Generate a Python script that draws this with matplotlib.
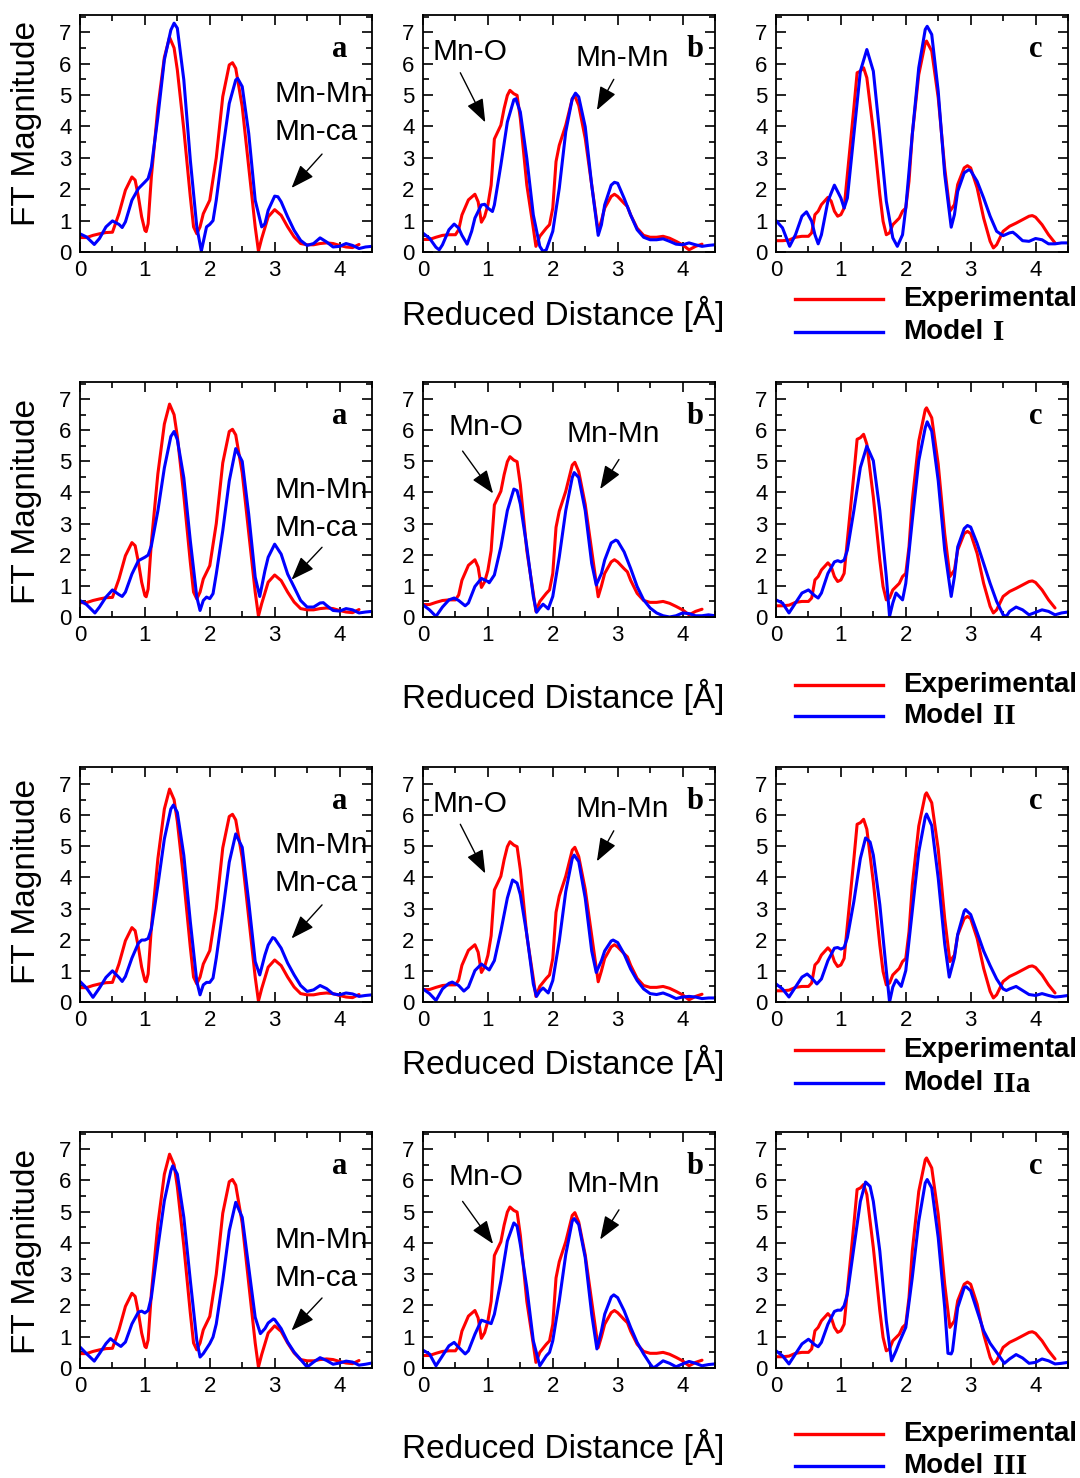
import matplotlib.pyplot as plt
from matplotlib.ticker import MultipleLocator

plt.rcParams['font.family'] = ['Liberation Sans', 'DejaVu Sans']

# experimental FT magnitudes (same curve in every row), (R, |FT|) pairs
exp_a = [(0.0, 0.46), (0.1, 0.46), (0.2, 0.53), (0.3, 0.58), (0.4, 0.62), (0.5, 0.63), (0.6, 1.22),
         (0.7, 1.97), (0.8, 2.39), (0.85, 2.29), (0.9, 1.76), (0.95, 1.12), (1.0, 0.69), (1.02, 0.65),
         (1.05, 0.9), (1.1, 2.4), (1.2, 4.6), (1.3, 6.2), (1.38, 6.84), (1.45, 6.5), (1.5, 5.8),
         (1.6, 3.9), (1.7, 1.76), (1.75, 0.8), (1.8, 0.58), (1.85, 0.8), (1.9, 1.22), (2.0, 1.65),
         (2.1, 3.0), (2.2, 4.95), (2.3, 5.96), (2.35, 6.03), (2.4, 5.85), (2.5, 4.63), (2.6, 2.71),
         (2.7, 0.8), (2.75, 0.03), (2.8, 0.43), (2.9, 1.12), (3.0, 1.35), (3.1, 1.17), (3.2, 0.8),
         (3.3, 0.48), (3.4, 0.27), (3.5, 0.23), (3.6, 0.23), (3.7, 0.27), (3.8, 0.29), (3.9, 0.27),
         (4.0, 0.21), (4.1, 0.16), (4.2, 0.14), (4.3, 0.24)]
exp_b = [(0.0, 0.4), (0.1, 0.4), (0.2, 0.47), (0.3, 0.53), (0.4, 0.55), (0.5, 0.55), (0.55, 0.71),
         (0.6, 1.18), (0.7, 1.66), (0.8, 1.84), (0.85, 1.6), (0.9, 0.95), (0.95, 1.13), (1.0, 1.5),
         (1.05, 2.13), (1.1, 3.6), (1.2, 4.04), (1.25, 4.57), (1.3, 4.99), (1.34, 5.15), (1.4, 5.04),
         (1.45, 4.99), (1.5, 4.25), (1.6, 2.13), (1.7, 0.76), (1.74, 0.18), (1.8, 0.5), (1.9, 0.76),
         (1.95, 0.87), (2.0, 1.4), (2.05, 2.88), (2.1, 3.4), (2.2, 4.04), (2.3, 4.88), (2.34, 4.97),
         (2.4, 4.67), (2.5, 3.62), (2.6, 2.13), (2.7, 0.65), (2.75, 1.0), (2.8, 1.4), (2.9, 1.77),
         (2.95, 1.84), (3.0, 1.77), (3.1, 1.55), (3.15, 1.45), (3.2, 1.18), (3.3, 0.76), (3.4, 0.53),
         (3.5, 0.47), (3.6, 0.47), (3.7, 0.5), (3.8, 0.44), (3.9, 0.34), (4.0, 0.23), (4.1, 0.07),
         (4.2, 0.18), (4.3, 0.25)]
exp_c = [(0.0, 0.36), (0.1, 0.36), (0.2, 0.38), (0.3, 0.47), (0.4, 0.5), (0.5, 0.5), (0.55, 0.61),
         (0.6, 1.19), (0.65, 1.3), (0.7, 1.51), (0.8, 1.74), (0.85, 1.62), (0.9, 1.3), (0.95, 1.14),
         (1.0, 1.19), (1.05, 1.4), (1.1, 2.47), (1.2, 4.59), (1.25, 5.71), (1.3, 5.76), (1.35, 5.87),
         (1.4, 5.55), (1.5, 3.85), (1.6, 1.83), (1.65, 0.98), (1.7, 0.55), (1.75, 0.61), (1.8, 0.87),
         (1.9, 1.08), (1.95, 1.3), (2.0, 1.4), (2.05, 2.26), (2.1, 3.74), (2.2, 5.65), (2.3, 6.66),
         (2.32, 6.72), (2.4, 6.4), (2.5, 4.91), (2.6, 2.68), (2.68, 1.3), (2.75, 1.51), (2.8, 2.15),
         (2.9, 2.68), (2.95, 2.75), (3.0, 2.68), (3.1, 2.04), (3.2, 1.08), (3.3, 0.34), (3.35, 0.13),
         (3.4, 0.23), (3.5, 0.66), (3.6, 0.82), (3.7, 0.92), (3.8, 1.03), (3.9, 1.14), (3.95, 1.16),
         (4.0, 1.11), (4.1, 0.87), (4.2, 0.55), (4.3, 0.29)]

# Model I
m1_a = [(0.0, 0.58), (0.1, 0.48), (0.22, 0.24), (0.3, 0.43), (0.4, 0.8), (0.5, 0.99), (0.6, 0.88),
        (0.65, 0.78), (0.7, 0.96), (0.8, 1.65), (0.9, 2.02), (1.0, 2.23), (1.05, 2.34), (1.1, 2.71),
        (1.2, 4.3), (1.3, 6.12), (1.4, 7.07), (1.45, 7.29), (1.5, 7.13), (1.6, 5.48), (1.7, 2.93),
        (1.8, 0.8), (1.87, 0.03), (1.95, 0.8), (2.0, 0.88), (2.05, 1.0), (2.1, 1.65), (2.2, 3.24),
        (2.3, 4.73), (2.4, 5.48), (2.43, 5.53), (2.5, 5.27), (2.6, 3.78), (2.7, 1.65), (2.8, 0.8),
        (2.85, 0.9), (2.9, 1.33), (3.0, 1.78), (3.05, 1.76), (3.1, 1.6), (3.2, 1.12), (3.3, 0.69),
        (3.4, 0.37), (3.5, 0.21), (3.6, 0.27), (3.7, 0.45), (3.8, 0.32), (3.9, 0.16), (4.0, 0.18),
        (4.1, 0.27), (4.2, 0.21), (4.3, 0.11), (4.4, 0.16), (4.5, 0.18)]
m1_b = [(0.0, 0.6), (0.1, 0.44), (0.2, 0.15), (0.25, 0.07), (0.3, 0.23), (0.4, 0.71), (0.48, 0.89),
        (0.55, 0.76), (0.6, 0.53), (0.68, 0.25), (0.75, 0.66), (0.8, 1.08), (0.9, 1.5), (0.95, 1.52),
        (1.0, 1.4), (1.07, 1.29), (1.1, 1.5), (1.2, 2.77), (1.3, 4.14), (1.4, 4.85), (1.43, 4.88),
        (1.5, 4.46), (1.6, 2.98), (1.7, 1.18), (1.8, 0.18), (1.85, 0.02), (1.9, 0.07), (2.0, 0.66),
        (2.1, 2.03), (2.2, 3.83), (2.3, 4.88), (2.35, 5.06), (2.4, 4.94), (2.5, 3.99), (2.6, 2.13),
        (2.7, 0.53), (2.75, 0.87), (2.8, 1.5), (2.9, 2.13), (2.95, 2.22), (3.0, 2.19), (3.1, 1.71),
        (3.2, 1.18), (3.3, 0.71), (3.4, 0.47), (3.5, 0.39), (3.6, 0.39), (3.7, 0.42), (3.8, 0.34),
        (3.9, 0.25), (4.0, 0.23), (4.1, 0.29), (4.2, 0.23), (4.3, 0.18), (4.4, 0.21), (4.5, 0.23)]
m1_c = [(0.0, 1.0), (0.1, 0.77), (0.21, 0.18), (0.3, 0.55), (0.4, 1.14), (0.47, 1.28), (0.55, 0.98),
        (0.6, 0.55), (0.65, 0.26), (0.7, 0.55), (0.8, 1.62), (0.9, 2.13), (1.0, 1.72), (1.05, 1.4),
        (1.1, 1.72), (1.2, 3.74), (1.3, 5.76), (1.4, 6.45), (1.5, 5.76), (1.6, 3.74), (1.7, 1.62),
        (1.8, 0.45), (1.87, 0.18), (1.95, 0.55), (2.0, 1.4), (2.1, 3.74), (2.2, 5.87), (2.3, 7.09),
        (2.33, 7.19), (2.4, 6.93), (2.5, 5.12), (2.6, 2.47), (2.7, 0.79), (2.75, 1.19), (2.8, 1.93),
        (2.9, 2.52), (2.97, 2.62), (3.0, 2.59), (3.1, 2.25), (3.2, 1.72), (3.3, 1.14), (3.4, 0.66),
        (3.5, 0.52), (3.6, 0.61), (3.65, 0.63), (3.7, 0.55), (3.8, 0.36), (3.9, 0.34), (4.0, 0.43),
        (4.1, 0.39), (4.2, 0.26), (4.3, 0.26), (4.4, 0.29), (4.5, 0.29)]

# Model II
m2_a = [(0.0, 0.53), (0.1, 0.4), (0.23, 0.13), (0.3, 0.32), (0.4, 0.64), (0.5, 0.87), (0.6, 0.72),
        (0.65, 0.66), (0.7, 0.8), (0.8, 1.38), (0.9, 1.81), (1.0, 1.92), (1.05, 1.99), (1.1, 2.29),
        (1.2, 3.41), (1.3, 4.79), (1.4, 5.8), (1.45, 5.96), (1.5, 5.7), (1.6, 4.47), (1.7, 2.45),
        (1.8, 0.64), (1.85, 0.21), (1.9, 0.53), (1.95, 0.64), (2.0, 0.59), (2.05, 0.75), (2.1, 1.38),
        (2.2, 2.77), (2.3, 4.37), (2.4, 5.41), (2.5, 5.0), (2.6, 3.3), (2.7, 1.28), (2.77, 0.66),
        (2.85, 1.49), (2.9, 1.92), (3.0, 2.34), (3.1, 2.02), (3.2, 1.38), (3.3, 0.96), (3.4, 0.53),
        (3.5, 0.32), (3.6, 0.32), (3.7, 0.45), (3.75, 0.46), (3.8, 0.37), (3.9, 0.21), (4.0, 0.19),
        (4.1, 0.27), (4.2, 0.23), (4.3, 0.13), (4.4, 0.16), (4.5, 0.18)]
m2_b = [(0.0, 0.39), (0.1, 0.23), (0.2, 0.02), (0.3, 0.32), (0.4, 0.55), (0.48, 0.61), (0.55, 0.53),
        (0.65, 0.36), (0.7, 0.45), (0.8, 0.98), (0.9, 1.24), (1.0, 1.14), (1.02, 1.1), (1.1, 1.35),
        (1.2, 2.25), (1.3, 3.42), (1.4, 4.11), (1.45, 4.06), (1.5, 3.63), (1.6, 2.25), (1.7, 0.66),
        (1.75, 0.15), (1.8, 0.29), (1.85, 0.41), (1.9, 0.32), (1.93, 0.26), (2.0, 0.66), (2.1, 1.93),
        (2.2, 3.42), (2.3, 4.48), (2.33, 4.64), (2.4, 4.48), (2.5, 3.42), (2.6, 1.72), (2.67, 1.03),
        (2.75, 1.4), (2.8, 1.83), (2.9, 2.38), (2.97, 2.47), (3.0, 2.44), (3.1, 2.09), (3.2, 1.56),
        (3.3, 0.98), (3.4, 0.55), (3.5, 0.29), (3.6, 0.13), (3.7, 0.04), (3.8, 0.0), (3.9, 0.04),
        (4.0, 0.13), (4.1, 0.11), (4.2, 0.04), (4.3, 0.04), (4.4, 0.07), (4.5, 0.04)]
m2_c = [(0.0, 0.55), (0.1, 0.45), (0.2, 0.13), (0.3, 0.45), (0.4, 0.77), (0.5, 0.87), (0.6, 0.68),
        (0.65, 0.61), (0.7, 0.77), (0.8, 1.4), (0.9, 1.77), (0.95, 1.81), (1.0, 1.77), (1.05, 1.83),
        (1.1, 2.15), (1.2, 3.42), (1.3, 4.8), (1.4, 5.49), (1.5, 5.02), (1.6, 3.42), (1.7, 1.3),
        (1.75, 0.02), (1.8, 0.45), (1.85, 0.77), (1.9, 0.66), (1.95, 0.55), (2.0, 1.08), (2.1, 3.1),
        (2.2, 5.02), (2.3, 6.08), (2.33, 6.27), (2.4, 5.97), (2.5, 4.38), (2.6, 2.15), (2.7, 0.66),
        (2.75, 1.3), (2.8, 2.25), (2.9, 2.84), (2.95, 2.94), (3.0, 2.89), (3.1, 2.36), (3.2, 1.72),
        (3.3, 1.08), (3.4, 0.5), (3.5, 0.07), (3.55, 0.02), (3.6, 0.18), (3.7, 0.32), (3.8, 0.23),
        (3.9, 0.07), (4.0, 0.15), (4.1, 0.23), (4.2, 0.18), (4.3, 0.07), (4.4, 0.13), (4.5, 0.16)]

# Model IIa
m2a_a = [(0.0, 0.66), (0.1, 0.45), (0.2, 0.15), (0.3, 0.45), (0.4, 0.79), (0.5, 1.0), (0.6, 0.79),
         (0.65, 0.66), (0.7, 0.82), (0.8, 1.41), (0.9, 1.89), (0.95, 1.99), (1.0, 1.99), (1.05, 2.04),
         (1.1, 2.36), (1.2, 3.75), (1.3, 5.24), (1.4, 6.2), (1.44, 6.33), (1.5, 6.09), (1.6, 4.71),
         (1.7, 2.58), (1.8, 0.66), (1.85, 0.23), (1.9, 0.55), (1.95, 0.63), (2.0, 0.63), (2.05, 0.77),
         (2.1, 1.41), (2.2, 2.9), (2.3, 4.49), (2.4, 5.4), (2.5, 4.97), (2.6, 3.22), (2.7, 1.3),
         (2.77, 0.87), (2.85, 1.51), (2.9, 1.83), (2.97, 2.07), (3.0, 2.04), (3.1, 1.73), (3.2, 1.25),
         (3.3, 0.87), (3.4, 0.53), (3.5, 0.34), (3.6, 0.39), (3.7, 0.53), (3.8, 0.43), (3.9, 0.26),
         (4.0, 0.23), (4.1, 0.29), (4.2, 0.26), (4.3, 0.18), (4.4, 0.21), (4.5, 0.23)]
m2a_b = [(0.0, 0.42), (0.1, 0.27), (0.2, 0.05), (0.3, 0.42), (0.4, 0.6), (0.45, 0.64), (0.55, 0.53),
         (0.63, 0.35), (0.7, 0.48), (0.8, 1.01), (0.9, 1.22), (1.0, 1.06), (1.02, 1.03), (1.1, 1.33),
         (1.2, 2.28), (1.3, 3.34), (1.38, 3.92), (1.45, 3.82), (1.5, 3.45), (1.6, 2.17), (1.7, 0.58),
         (1.75, 0.18), (1.8, 0.35), (1.85, 0.45), (1.9, 0.35), (1.93, 0.29), (2.0, 0.69), (2.1, 1.96),
         (2.2, 3.55), (2.3, 4.61), (2.33, 4.72), (2.4, 4.51), (2.5, 3.34), (2.6, 1.64), (2.67, 0.95),
         (2.75, 1.33), (2.8, 1.64), (2.9, 1.96), (2.93, 1.99), (3.0, 1.91), (3.1, 1.54), (3.2, 1.06),
         (3.3, 0.69), (3.4, 0.42), (3.5, 0.27), (3.6, 0.24), (3.7, 0.29), (3.8, 0.21), (3.9, 0.11),
         (4.0, 0.16), (4.1, 0.18), (4.2, 0.16), (4.3, 0.11), (4.4, 0.13), (4.5, 0.13)]
m2a_c = [(0.0, 0.58), (0.1, 0.42), (0.2, 0.16), (0.3, 0.48), (0.4, 0.8), (0.48, 0.9), (0.55, 0.77),
         (0.63, 0.58), (0.7, 0.74), (0.8, 1.33), (0.9, 1.73), (0.95, 1.75), (1.0, 1.7), (1.05, 1.75),
         (1.1, 2.07), (1.2, 3.23), (1.3, 4.61), (1.38, 5.27), (1.45, 5.14), (1.5, 4.72), (1.6, 3.13),
         (1.7, 1.01), (1.75, 0.0), (1.8, 0.48), (1.85, 0.71), (1.9, 0.58), (1.93, 0.5), (2.0, 1.01),
         (2.1, 2.92), (2.2, 4.82), (2.3, 5.94), (2.32, 6.04), (2.4, 5.67), (2.5, 3.98), (2.6, 1.86),
         (2.67, 0.8), (2.75, 1.43), (2.8, 2.17), (2.9, 2.92), (2.92, 2.97), (3.0, 2.81), (3.1, 2.23),
         (3.2, 1.64), (3.3, 1.17), (3.4, 0.74), (3.5, 0.42), (3.55, 0.37), (3.6, 0.42), (3.7, 0.5),
         (3.8, 0.37), (3.9, 0.24), (4.0, 0.21), (4.1, 0.27), (4.2, 0.21), (4.3, 0.16), (4.4, 0.18),
         (4.5, 0.21)]

# Model III
m3_a = [(0.0, 0.67), (0.1, 0.46), (0.22, 0.22), (0.3, 0.46), (0.4, 0.78), (0.47, 0.94), (0.55, 0.8),
        (0.63, 0.69), (0.7, 0.83), (0.8, 1.41), (0.9, 1.79), (0.95, 1.82), (1.0, 1.76), (1.05, 1.84),
        (1.1, 2.27), (1.2, 3.86), (1.3, 5.35), (1.4, 6.31), (1.43, 6.47), (1.5, 6.2), (1.6, 4.82),
        (1.7, 2.8), (1.8, 0.88), (1.85, 0.35), (1.9, 0.46), (2.0, 0.78), (2.05, 0.99), (2.1, 1.41),
        (2.2, 2.8), (2.3, 4.39), (2.4, 5.3), (2.5, 4.82), (2.6, 3.22), (2.7, 1.62), (2.78, 1.1),
        (2.85, 1.26), (2.9, 1.44), (2.98, 1.57), (3.0, 1.55), (3.1, 1.26), (3.2, 0.83), (3.3, 0.51),
        (3.4, 0.27), (3.5, 0.03), (3.6, 0.19), (3.7, 0.33), (3.8, 0.24), (3.9, 0.12), (4.0, 0.16),
        (4.1, 0.22), (4.2, 0.19), (4.3, 0.09), (4.4, 0.12), (4.5, 0.16)]
m3_b = [(0.0, 0.57), (0.1, 0.45), (0.2, 0.07), (0.3, 0.39), (0.4, 0.71), (0.48, 0.82), (0.55, 0.66),
        (0.65, 0.45), (0.7, 0.55), (0.8, 1.08), (0.9, 1.53), (1.0, 1.46), (1.05, 1.42), (1.1, 1.72),
        (1.2, 2.78), (1.3, 4.06), (1.4, 4.64), (1.45, 4.54), (1.5, 3.95), (1.6, 2.57), (1.7, 0.87),
        (1.8, 0.07), (1.85, 0.23), (1.9, 0.39), (1.95, 0.5), (2.0, 0.87), (2.1, 2.15), (2.2, 3.63),
        (2.3, 4.7), (2.33, 4.78), (2.4, 4.59), (2.5, 3.53), (2.6, 1.72), (2.68, 0.61), (2.75, 1.19),
        (2.8, 1.72), (2.9, 2.27), (2.94, 2.34), (3.0, 2.25), (3.1, 1.83), (3.2, 1.3), (3.3, 0.82),
        (3.4, 0.45), (3.5, 0.13), (3.55, 0.0), (3.6, 0.07), (3.7, 0.23), (3.8, 0.15), (3.9, 0.04),
        (4.0, 0.13), (4.1, 0.21), (4.2, 0.15), (4.3, 0.07), (4.4, 0.11), (4.5, 0.13)]
m3_c = [(0.0, 0.55), (0.1, 0.39), (0.2, 0.13), (0.3, 0.45), (0.4, 0.77), (0.5, 0.92), (0.6, 0.74),
        (0.65, 0.68), (0.7, 0.82), (0.8, 1.4), (0.9, 1.81), (0.95, 1.85), (1.0, 1.85), (1.05, 1.99),
        (1.1, 2.36), (1.2, 3.85), (1.3, 5.33), (1.38, 5.95), (1.45, 5.81), (1.5, 5.33), (1.6, 3.74),
        (1.7, 1.51), (1.78, 0.23), (1.85, 0.55), (1.9, 0.82), (2.0, 1.3), (2.1, 2.89), (2.2, 4.7),
        (2.3, 5.92), (2.33, 6.03), (2.4, 5.76), (2.5, 4.17), (2.6, 1.93), (2.65, 0.47), (2.7, 0.45),
        (2.72, 0.55), (2.8, 1.93), (2.9, 2.57), (2.93, 2.6), (3.0, 2.47), (3.1, 1.83), (3.2, 1.19),
        (3.3, 0.79), (3.4, 0.5), (3.52, 0.15), (3.6, 0.29), (3.7, 0.43), (3.8, 0.32), (3.9, 0.15),
        (4.0, 0.18), (4.1, 0.29), (4.2, 0.23), (4.3, 0.13), (4.4, 0.15), (4.5, 0.18)]

models = ["I", "II", "IIa", "III"]
fits = [(m1_a, m1_b, m1_c), (m2_a, m2_b, m2_c), (m2a_a, m2a_b, m2a_c), (m3_a, m3_b, m3_c)]
experiment = (exp_a, exp_b, exp_c)
letters = ["a", "b", "c"]

W, H = 1080, 1478
row_top = [15, 382, 767, 1132]
row_bot = [252, 617, 1002, 1368]
col_left = [80, 423, 776]
col_w = 292
ylabel_y = [124, 501, 881, 1252]
xlabel_y = [314, 697, 1063, 1447]
legend_y = [(299, 332), (685, 716), (1050, 1083), (1434, 1466)]
# label/arrow placement in data units, two layouts (rows 1,3 vs rows 2,4)
layout_a = [dict(mn=5.03, ca=3.82, tail=(3.73, 3.12), head=(3.26, 2.04)),
            dict(mn=4.08, ca=2.87, tail=(3.73, 2.24), head=(3.26, 1.20))]
layout_b = [dict(o=(0.14, 6.37), mm=(2.35, 6.19), o_tail=(0.575, 5.71), o_head=(0.96, 4.13),
                 m_tail=(2.94, 5.50), m_head=(2.68, 4.52)),
            dict(o=(0.40, 6.10), mm=(2.21, 5.89), o_tail=(0.61, 5.33), o_head=(1.08, 3.97),
                 m_tail=(3.02, 5.06), m_head=(2.73, 4.11))]

fig = plt.figure(figsize=(W / 100, H / 100), dpi=100)

def px(x, y):
    return x / W, 1 - y / H

arrow_kw = dict(arrowstyle='-|>,head_length=0.8,head_width=0.3', color='black', lw=1.0,
                mutation_scale=18, shrinkA=0, shrinkB=0)
line_kw = dict(lw=2.2, solid_joinstyle='round', solid_capstyle='round')

for r, model in enumerate(models):
    for c in range(3):
        left = col_left[c] / W
        bottom = 1 - row_bot[r] / H
        height = (row_bot[r] - row_top[r]) / H
        ax = fig.add_axes([left, bottom, col_w / W, height])
        ex = experiment[c]
        fit = fits[r][c]
        ax.plot([p[0] for p in ex], [p[1] for p in ex], color='#ff0000', **line_kw)
        ax.plot([p[0] for p in fit], [p[1] for p in fit], color='#0000ff', **line_kw)
        ax.set_xlim(0, 4.5)
        ax.set_ylim(0, 7.55)
        ax.xaxis.set_major_locator(MultipleLocator(1))
        ax.xaxis.set_minor_locator(MultipleLocator(0.5))
        ax.yaxis.set_major_locator(MultipleLocator(1))
        ax.yaxis.set_minor_locator(MultipleLocator(0.5))
        ax.tick_params(which='both', direction='in', top=True, right=True, width=1.2, labelsize=16,
                       pad=6)
        ax.tick_params(which='major', length=7)
        ax.tick_params(which='minor', length=4)
        for s in ax.spines.values():
            s.set_linewidth(1.3)

        ax.text(4.0 if c != 1 else 4.2, 6.2, letters[c], ha='center', va='baseline',
                fontsize=22, fontweight='bold', family='Liberation Serif')

        if c == 0:
            la = layout_a[r % 2]
            ax.text(2.99, la['mn'], "Mn-Mn", fontsize=21.5, va='center', ha='left')
            ax.text(2.99, la['ca'], "Mn-ca", fontsize=21.5, va='center', ha='left')
            ax.annotate('', xy=la['head'], xytext=la['tail'], arrowprops=arrow_kw)
        if c == 1:
            lb = layout_b[r % 2]
            ax.text(*lb['o'], "Mn-O", fontsize=21.5, va='center', ha='left')
            ax.text(*lb['mm'], "Mn-Mn", fontsize=21.5, va='center', ha='left')
            ax.annotate('', xy=lb['o_head'], xytext=lb['o_tail'], arrowprops=arrow_kw)
            ax.annotate('', xy=lb['m_head'], xytext=lb['m_tail'], arrowprops=arrow_kw)

    fig.text(*px(27, ylabel_y[r]), "FT Magnitude", rotation=90, fontsize=24, ha='center', va='center')
    fig.text(*px(563, xlabel_y[r]), "Reduced Distance [Å]", fontsize=24, ha='center', va='center')

    ry, by = legend_y[r]
    fig.add_artist(plt.Line2D([795 / W, 883 / W], [1 - ry / H, 1 - ry / H], color='#ff0000', lw=2.4))
    fig.add_artist(plt.Line2D([795 / W, 883 / W], [1 - by / H, 1 - by / H], color='#0000ff', lw=2.4))
    fig.text(*px(903, ry), "Experimental", fontsize=20, fontweight='bold', ha='left', va='center')
    fig.text(*px(903, by), "Model", fontsize=20, fontweight='bold', ha='left', va='center')
    fig.text(*px(993, by + 1), model, fontsize=21, fontweight='bold', family='Liberation Serif',
             ha='left', va='center')

fig.savefig("out.png", dpi=100)
